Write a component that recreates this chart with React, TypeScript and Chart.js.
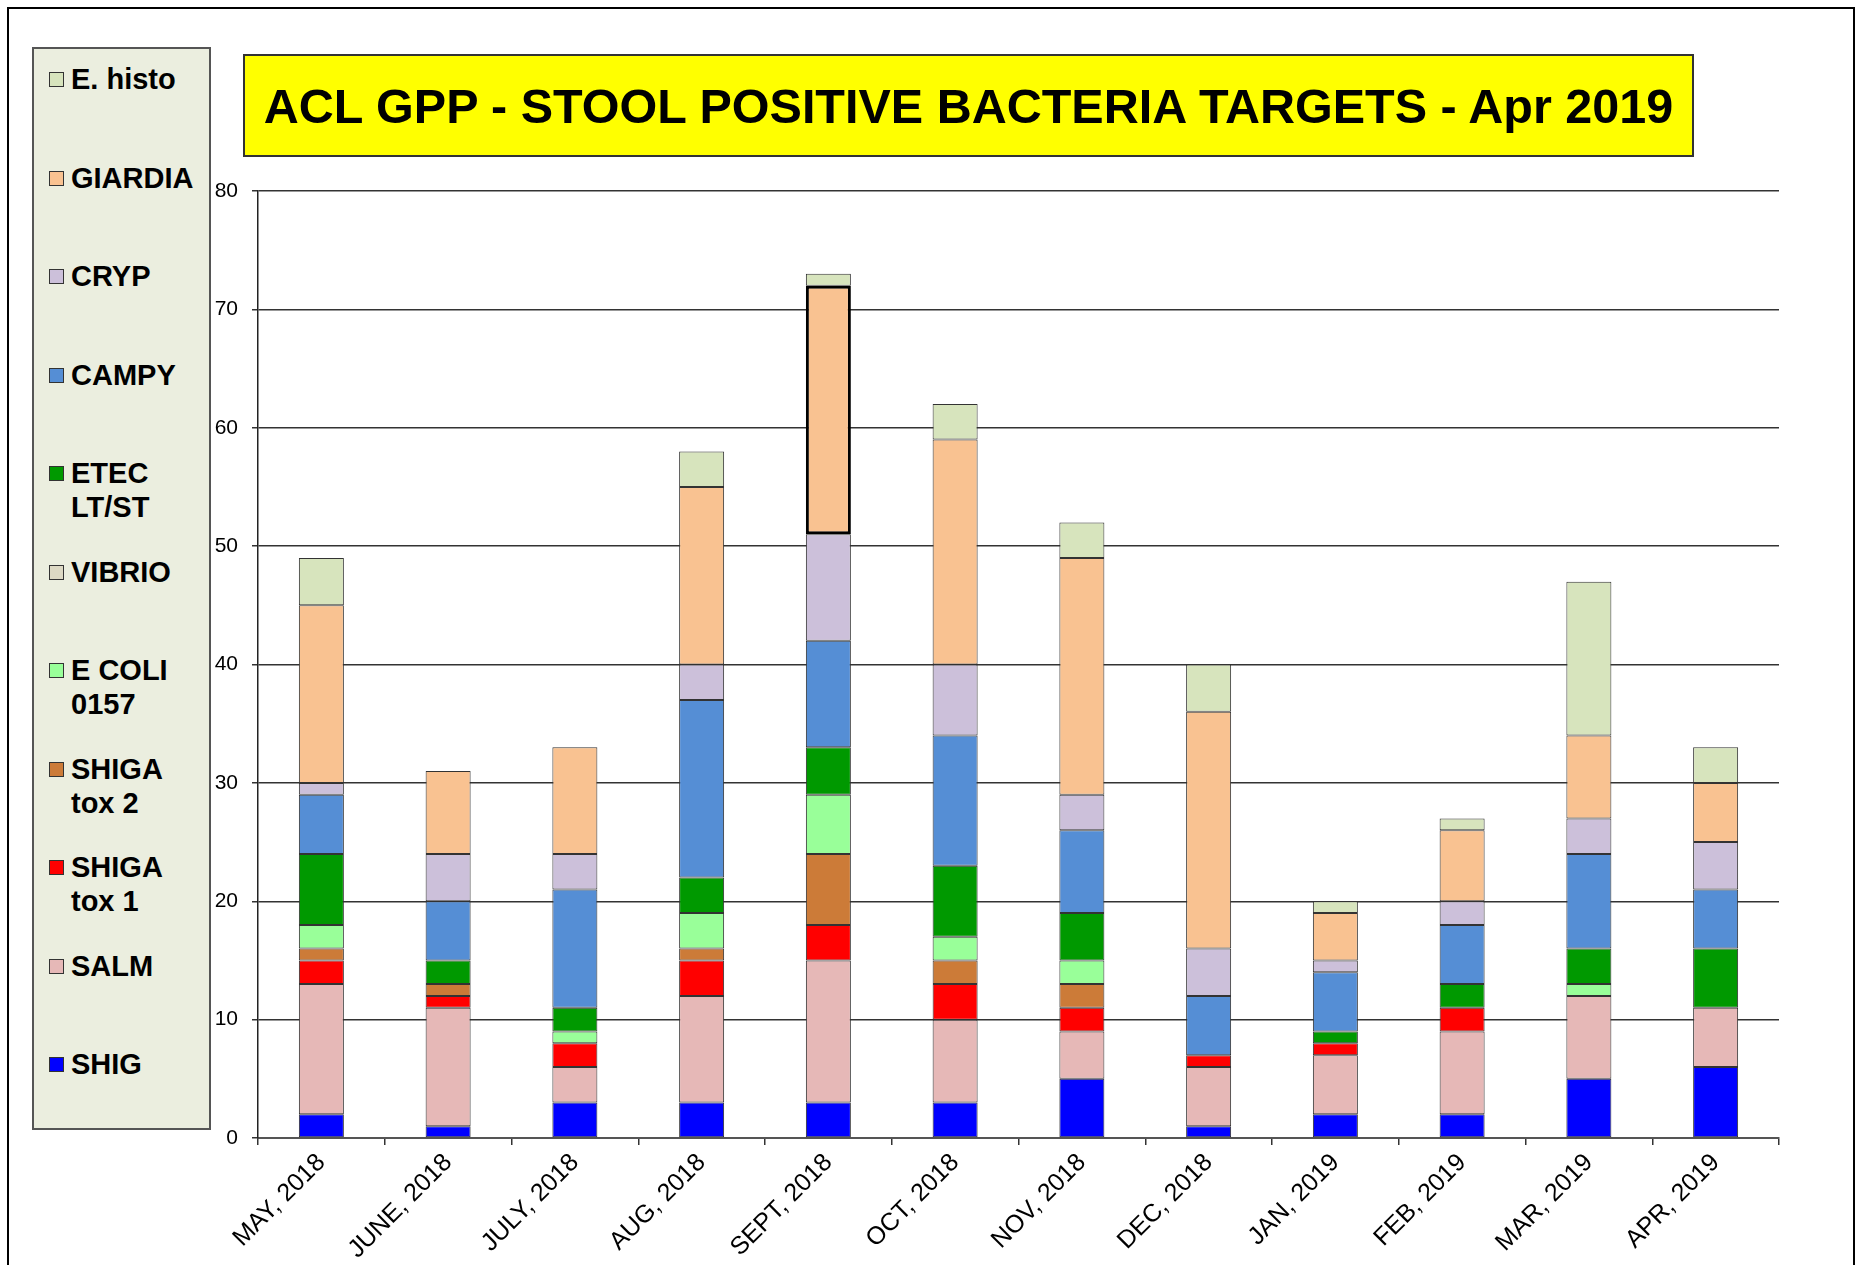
import React, { useEffect, useRef } from 'react';
import { Chart, registerables } from 'chart.js';

Chart.register(...registerables);

// ---------- Data ----------
const months = [
  'MAY, 2018', 'JUNE, 2018', 'JULY, 2018', 'AUG, 2018', 'SEPT, 2018', 'OCT, 2018',
  'NOV, 2018', 'DEC, 2018', 'JAN, 2019', 'FEB, 2019', 'MAR, 2019', 'APR, 2019',
];

const shig = [2, 1, 3, 3, 3, 3, 5, 1, 2, 2, 5, 6];
const salm = [11, 10, 3, 9, 12, 7, 4, 5, 5, 7, 7, 5];
const shigaTox1 = [2, 1, 2, 3, 3, 3, 2, 1, 1, 2, 0, 0];
const shigaTox2 = [1, 1, 0, 1, 6, 2, 2, 0, 0, 0, 0, 0];
const ecoli0157 = [2, 0, 1, 3, 5, 2, 2, 0, 0, 0, 1, 0];
const vibrio = [0, 0, 0, 0, 0, 0, 0, 0, 0, 0, 0, 0];
const etec = [6, 2, 2, 3, 4, 6, 4, 0, 1, 2, 3, 5];
const campy = [5, 5, 10, 15, 9, 11, 7, 5, 5, 5, 8, 5];
const cryp = [1, 4, 3, 3, 9, 6, 3, 4, 1, 2, 3, 4];
const giardia = [15, 7, 9, 15, 21, 19, 20, 20, 4, 6, 7, 5];
const eHisto = [4, 0, 0, 3, 1, 3, 3, 4, 1, 1, 13, 3];

const seriesLabels = [
  ['SHIG'], ['SALM'], ['SHIGA', 'tox 1'], ['SHIGA', 'tox 2'], ['E COLI', '0157'],
  ['VIBRIO'], ['ETEC', 'LT/ST'], ['CAMPY'], ['CRYP'], ['GIARDIA'], ['E. histo'],
];
const seriesValues = [shig, salm, shigaTox1, shigaTox2, ecoli0157, vibrio, etec, campy, cryp, giardia, eHisto];
const seriesColors = [
  '#0000FF', '#E6B8B7', '#FF0000', '#CC7B38', '#99FF99',
  '#DDD9C4', '#009900', '#558ED5', '#CCC0DA', '#F9C291', '#D7E4BD',
];

const yTicks = [0, 10, 20, 30, 40, 50, 60, 70, 80];
const titleText = 'ACL GPP - STOOL POSITIVE BACTERIA TARGETS - Apr 2019';

const FONT = '"Liberation Sans", Arial, Helvetica, sans-serif';

export default function App() {
  const canvasRef = useRef<HTMLCanvasElement | null>(null);

  useEffect(() => {
    const canvas = canvasRef.current;
    if (!canvas) return;
    const chart = new Chart(canvas, {
      type: 'bar',
      data: {
        labels: months,
        datasets: seriesValues.map((vals, i) => ({
          label: seriesLabels[i].join(' '),
          data: vals,
          backgroundColor: seriesColors[i],
          borderColor: i === 9 ? ((ctx: any) => (ctx.dataIndex === 4 ? '#000' : '#333')) : '#333',
          borderWidth: i === 9 ? ((ctx: any) => (ctx.dataIndex === 4 ? 3 : 1)) : 1,
          borderSkipped: false,
          barPercentage: 0.355,
          categoryPercentage: 1,
        })) as any,
      },
      options: {
        animation: false,
        responsive: false,
        maintainAspectRatio: false,
        devicePixelRatio: 1,
        layout: { padding: { left: 200, top: 191, right: 77, bottom: 0 } },
        plugins: {
          legend: { display: false },
          title: { display: false },
          tooltip: { enabled: false },
        },
        scales: {
          x: {
            stacked: true,
            offset: true,
            grid: {
              display: true,
              offset: true,
              drawOnChartArea: false,
              drawTicks: true,
              tickLength: 7,
              color: '#333',
              lineWidth: 1.5,
            },
            border: { display: true, color: '#555', width: 2 },
            ticks: {
              autoSkip: false,
              maxRotation: 45,
              minRotation: 45,
              color: '#000',
              padding: 3,
              font: { family: FONT, size: 25 },
            },
            afterFit: (scale: any) => {
              scale.height = 127;
            },
          },
          y: {
            stacked: true,
            min: yTicks[0],
            max: yTicks[yTicks.length - 1],
            afterBuildTicks: (scale: any) => {
              scale.ticks = yTicks.map((v) => ({ value: v }));
            },
            ticks: {
              color: '#000',
              padding: 14,
              font: { family: FONT, size: 21 },
            },
            grid: { color: '#333', lineWidth: 1.5, tickLength: 6, drawTicks: true },
            border: { display: true, color: '#222', width: 1.5 },
            afterFit: (scale: any) => {
              scale.width = 58;
            },
          },
        },
      },
    });
    return () => chart.destroy();
  }, []);

  const legendOrder = seriesLabels.map((_, i) => i).reverse();

  return (
    <div
      style={{
        position: 'absolute',
        left: 0,
        top: 0,
        width: 1856,
        height: 1265,
        overflow: 'hidden',
        background: '#fff',
        fontFamily: FONT,
      }}
    >
      <canvas
        ref={canvasRef}
        width={1856}
        height={1265}
        style={{ position: 'absolute', left: 0, top: 0, width: 1856, height: 1265 }}
      />
      {/* outer frame */}
      <div
        style={{
          position: 'absolute',
          left: 7,
          top: 7,
          width: 1848,
          height: 1400,
          border: '2px solid #000',
          boxSizing: 'border-box',
          pointerEvents: 'none',
        }}
      />
      {/* title box */}
      <div
        style={{
          position: 'absolute',
          left: 243,
          top: 54,
          width: 1451,
          height: 103,
          background: '#FFFF00',
          border: '2px solid #333',
          boxSizing: 'border-box',
          display: 'flex',
          alignItems: 'center',
          justifyContent: 'center',
          fontWeight: 'bold',
          fontSize: 48.5,
          color: '#000',
          whiteSpace: 'nowrap',
        }}
      >
        {titleText}
      </div>
      {/* legend box */}
      <div
        style={{
          position: 'absolute',
          left: 32,
          top: 47,
          width: 179,
          height: 1083,
          background: '#EBEEDF',
          border: '2px solid #555',
          boxSizing: 'border-box',
        }}
      />
      {legendOrder.map((si, k) => {
        const cy = 79 + k * 98.5;
        const lines = seriesLabels[si];
        return (
          <div key={si}>
            <div
              style={{
                position: 'absolute',
                left: 49,
                top: cy - 7,
                width: 15,
                height: 15,
                background: seriesColors[si],
                border: '1px solid #333',
                boxSizing: 'border-box',
              }}
            />
            {lines.map((ln, li) => (
              <div
                key={li}
                style={{
                  position: 'absolute',
                  left: 71,
                  top: cy + li * 34 - 17,
                  height: 34,
                  lineHeight: '34px',
                  fontSize: 29,
                  fontWeight: 'bold',
                  color: '#000',
                  whiteSpace: 'nowrap',
                }}
              >
                {ln}
              </div>
            ))}
          </div>
        );
      })}
    </div>
  );
}
